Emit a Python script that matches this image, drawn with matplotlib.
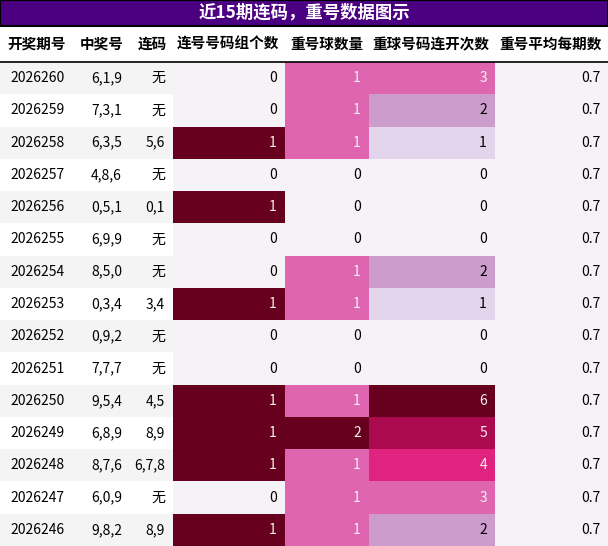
import matplotlib.pyplot as plt
from matplotlib.patches import Rectangle

plt.rcParams['font.family'] = ['Noto Sans CJK SC', 'DejaVu Sans']

title = "近15期连码，重号数据图示"
headers = ["开奖期号", "中奖号", "连码", "连号号码组个数", "重号球数量", "重球号码连开次数", "重号平均每期数"]
issues = ["2026260", "2026259", "2026258", "2026257", "2026256", "2026255", "2026254", "2026253",
          "2026252", "2026251", "2026250", "2026249", "2026248", "2026247", "2026246"]
numbers = ["6,1,9", "7,3,1", "6,3,5", "4,8,6", "0,5,1", "6,9,9", "8,5,0", "0,3,4",
           "0,9,2", "7,7,7", "9,5,4", "6,8,9", "8,7,6", "6,0,9", "9,8,2"]
lianma = ["无", "无", "5,6", "无", "0,1", "无", "无", "3,4", "无", "无", "4,5", "8,9", "6,7,8", "无", "8,9"]
lian_groups = [0, 0, 1, 0, 1, 0, 0, 1, 0, 0, 1, 1, 1, 0, 1]
repeat_count = [1, 1, 1, 0, 0, 0, 1, 1, 0, 0, 1, 2, 1, 1, 1]
repeat_streak = [3, 2, 1, 0, 0, 0, 2, 1, 0, 0, 6, 5, 4, 3, 2]
repeat_avg = [0.7] * 15

# PuRd-like colours
c_low = "#f5f2f8"
col3_colors = {0: c_low, 1: "#67001f"}
col4_colors = {0: c_low, 1: "#df65b0", 2: "#67001f"}
col5_colors = {0: c_low, 1: "#e2d4ea", 2: "#cc9dcc", 3: "#df65b0", 4: "#e0237f",
               5: "#ab0a4e", 6: "#67001f"}
dark_text = {"#e2d4ea", "#cc9dcc", c_low}

W, H = 608, 546
edges = [0, 72, 130, 173, 285, 369, 495, 608]
title_h, head_h = 26, 36
row_h = (H - title_h - head_h) / 15

fig = plt.figure(figsize=(W / 100, H / 100), dpi=100)
ax = fig.add_axes([0, 0, 1, 1])
ax.set_xlim(0, W)
ax.set_ylim(H, 0)
ax.axis("off")

ax.add_patch(Rectangle((0, 0), W, title_h, facecolor="#4b0082", edgecolor="black", lw=1.5))
ax.text(W / 2, title_h / 2, title, color="white", fontsize=12.5, fontweight="bold",
        ha="center", va="center")

for j, h in enumerate(headers):
    ax.text(edges[j + 1] - 6, title_h + head_h / 2, h, fontsize=10.5, fontweight="bold",
            ha="right", va="center")
ax.plot([0, W], [title_h + head_h, title_h + head_h], color="black", lw=1.2)

for i in range(15):
    y0 = title_h + head_h + i * row_h
    yc = y0 + row_h / 2
    base = "#f4f4f4" if i % 2 == 0 else "white"
    cells = [
        (issues[i], base, "black"),
        (numbers[i], base, "black"),
        (lianma[i], base, "black"),
        (str(lian_groups[i]), col3_colors[lian_groups[i]], None),
        (str(repeat_count[i]), col4_colors[repeat_count[i]], None),
        (str(repeat_streak[i]), col5_colors[repeat_streak[i]], None),
        (f"{repeat_avg[i]:.1f}", c_low, "black"),
    ]
    for j, (txt, fc, tc) in enumerate(cells):
        ax.add_patch(Rectangle((edges[j], y0), edges[j + 1] - edges[j], row_h,
                               facecolor=fc, edgecolor="none"))
        if tc is None:
            tc = "black" if fc in dark_text else "#f1f1f1"
        if j == 0:
            ax.text(edges[j] + 10, yc, txt, fontsize=10, ha="left", va="center", color=tc)
        else:
            ax.text(edges[j + 1] - 8, yc, txt, fontsize=10, ha="right", va="center", color=tc)

fig.savefig("out.png", dpi=100)
